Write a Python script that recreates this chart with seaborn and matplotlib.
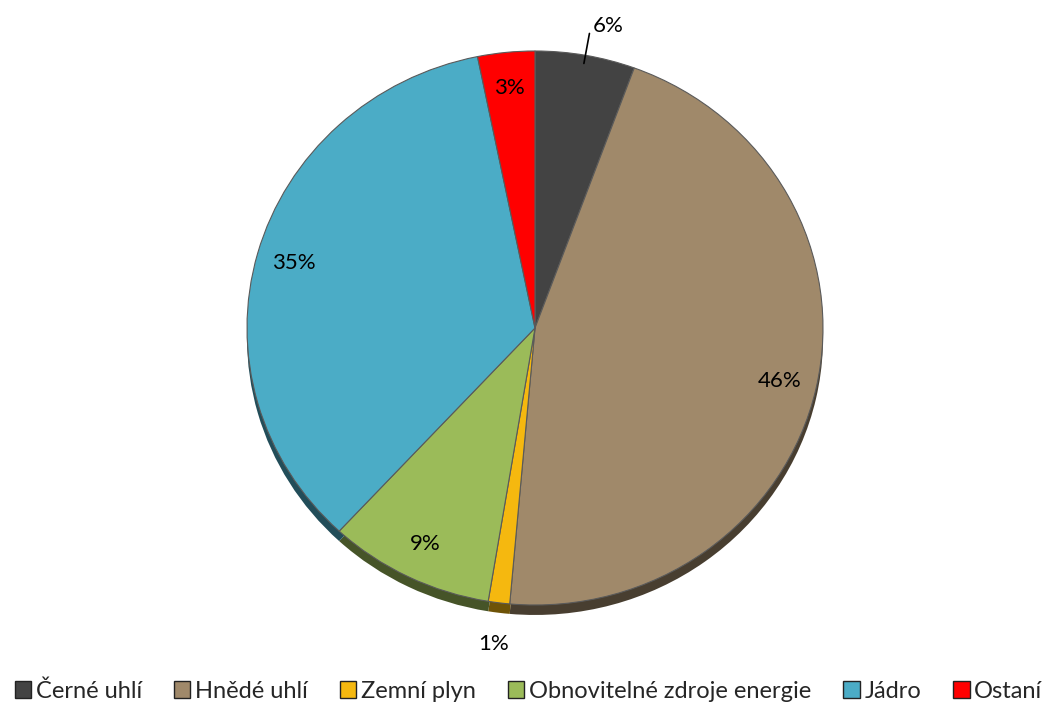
import numpy as np
import matplotlib
matplotlib.use("Agg")
import matplotlib.pyplot as plt
import seaborn as sns
from matplotlib.patches import Patch

categories = ["Černé uhlí", "Hnědé uhlí", "Zemní plyn",
              "Obnovitelné zdroje energie", "Jádro", "Ostaní"]
values = [5.6, 45.8, 1.2, 9.3, 34.9, 3.2]
colors = ["#434343", "#A0896A", "#F5B80F", "#9BBB59", "#4BACC6", "#FF0000"]

sns.set_theme(style="white")
plt.rcParams["font.family"] = ["Lato", "DejaVu Sans"]

W, H = 1057, 707
fig = plt.figure(figsize=(W / 100, H / 100), dpi=100)
cx, cy, rx, ry = 535, 328, 288, 277
half_w, half_h = 320, 300
ax = fig.add_axes([(cx - half_w) / W, (H - cy - half_h) / H, 2 * half_w / W, 2 * half_h / H])

pal = sns.color_palette(colors)
dark = [tuple(c * 0.45 for c in col) for col in pal]

# shadow / 3D rim
ax.pie(values, colors=dark, startangle=90, counterclock=False, radius=1.0,
       center=(0, -0.036), wedgeprops=dict(linewidth=0))

wedges, _, autotexts = ax.pie(
    values, colors=pal, startangle=90, counterclock=False, radius=1.0,
    autopct=lambda p: f"{p:.0f}%", pctdistance=0.87,
    wedgeprops=dict(linewidth=0.8, edgecolor="#5a5a5a"),
    textprops=dict(fontsize=16, color="black"))

ax.set_xlim(-half_w / rx, half_w / rx)
ax.set_ylim(-half_h / ry, half_h / ry)
ax.set_aspect("auto")
ax.axis("off")

# outside labels
for i, w in enumerate(wedges):
    mid = np.deg2rad((w.theta1 + w.theta2) / 2)
    if i == 0:
        x0, y0 = 0.97 * np.cos(mid), 0.97 * np.sin(mid)
        x1, y1 = 1.08 * np.cos(mid), 1.08 * np.sin(mid)
        ax.plot([x0, x1], [y0, y1], color="black", lw=1.2)
        autotexts[i].set_position((x1 + 0.01, y1 - 0.01))
        autotexts[i].set_ha("left")
        autotexts[i].set_va("bottom")
    elif i == 2:
        autotexts[i].set_position((1.15 * np.cos(mid), 1.15 * np.sin(mid)))

handles = [Patch(facecolor=c, edgecolor="#222222", linewidth=1.0) for c in colors]
fig.legend(handles, categories, loc="center", bbox_to_anchor=(0.5, (H - 691) / H),
           ncol=6, frameon=False, fontsize=17, handlelength=0.7, handleheight=0.7,
           handletextpad=0.2, columnspacing=1.35, borderaxespad=0)

fig.savefig("out.png", dpi=100, facecolor="white")
